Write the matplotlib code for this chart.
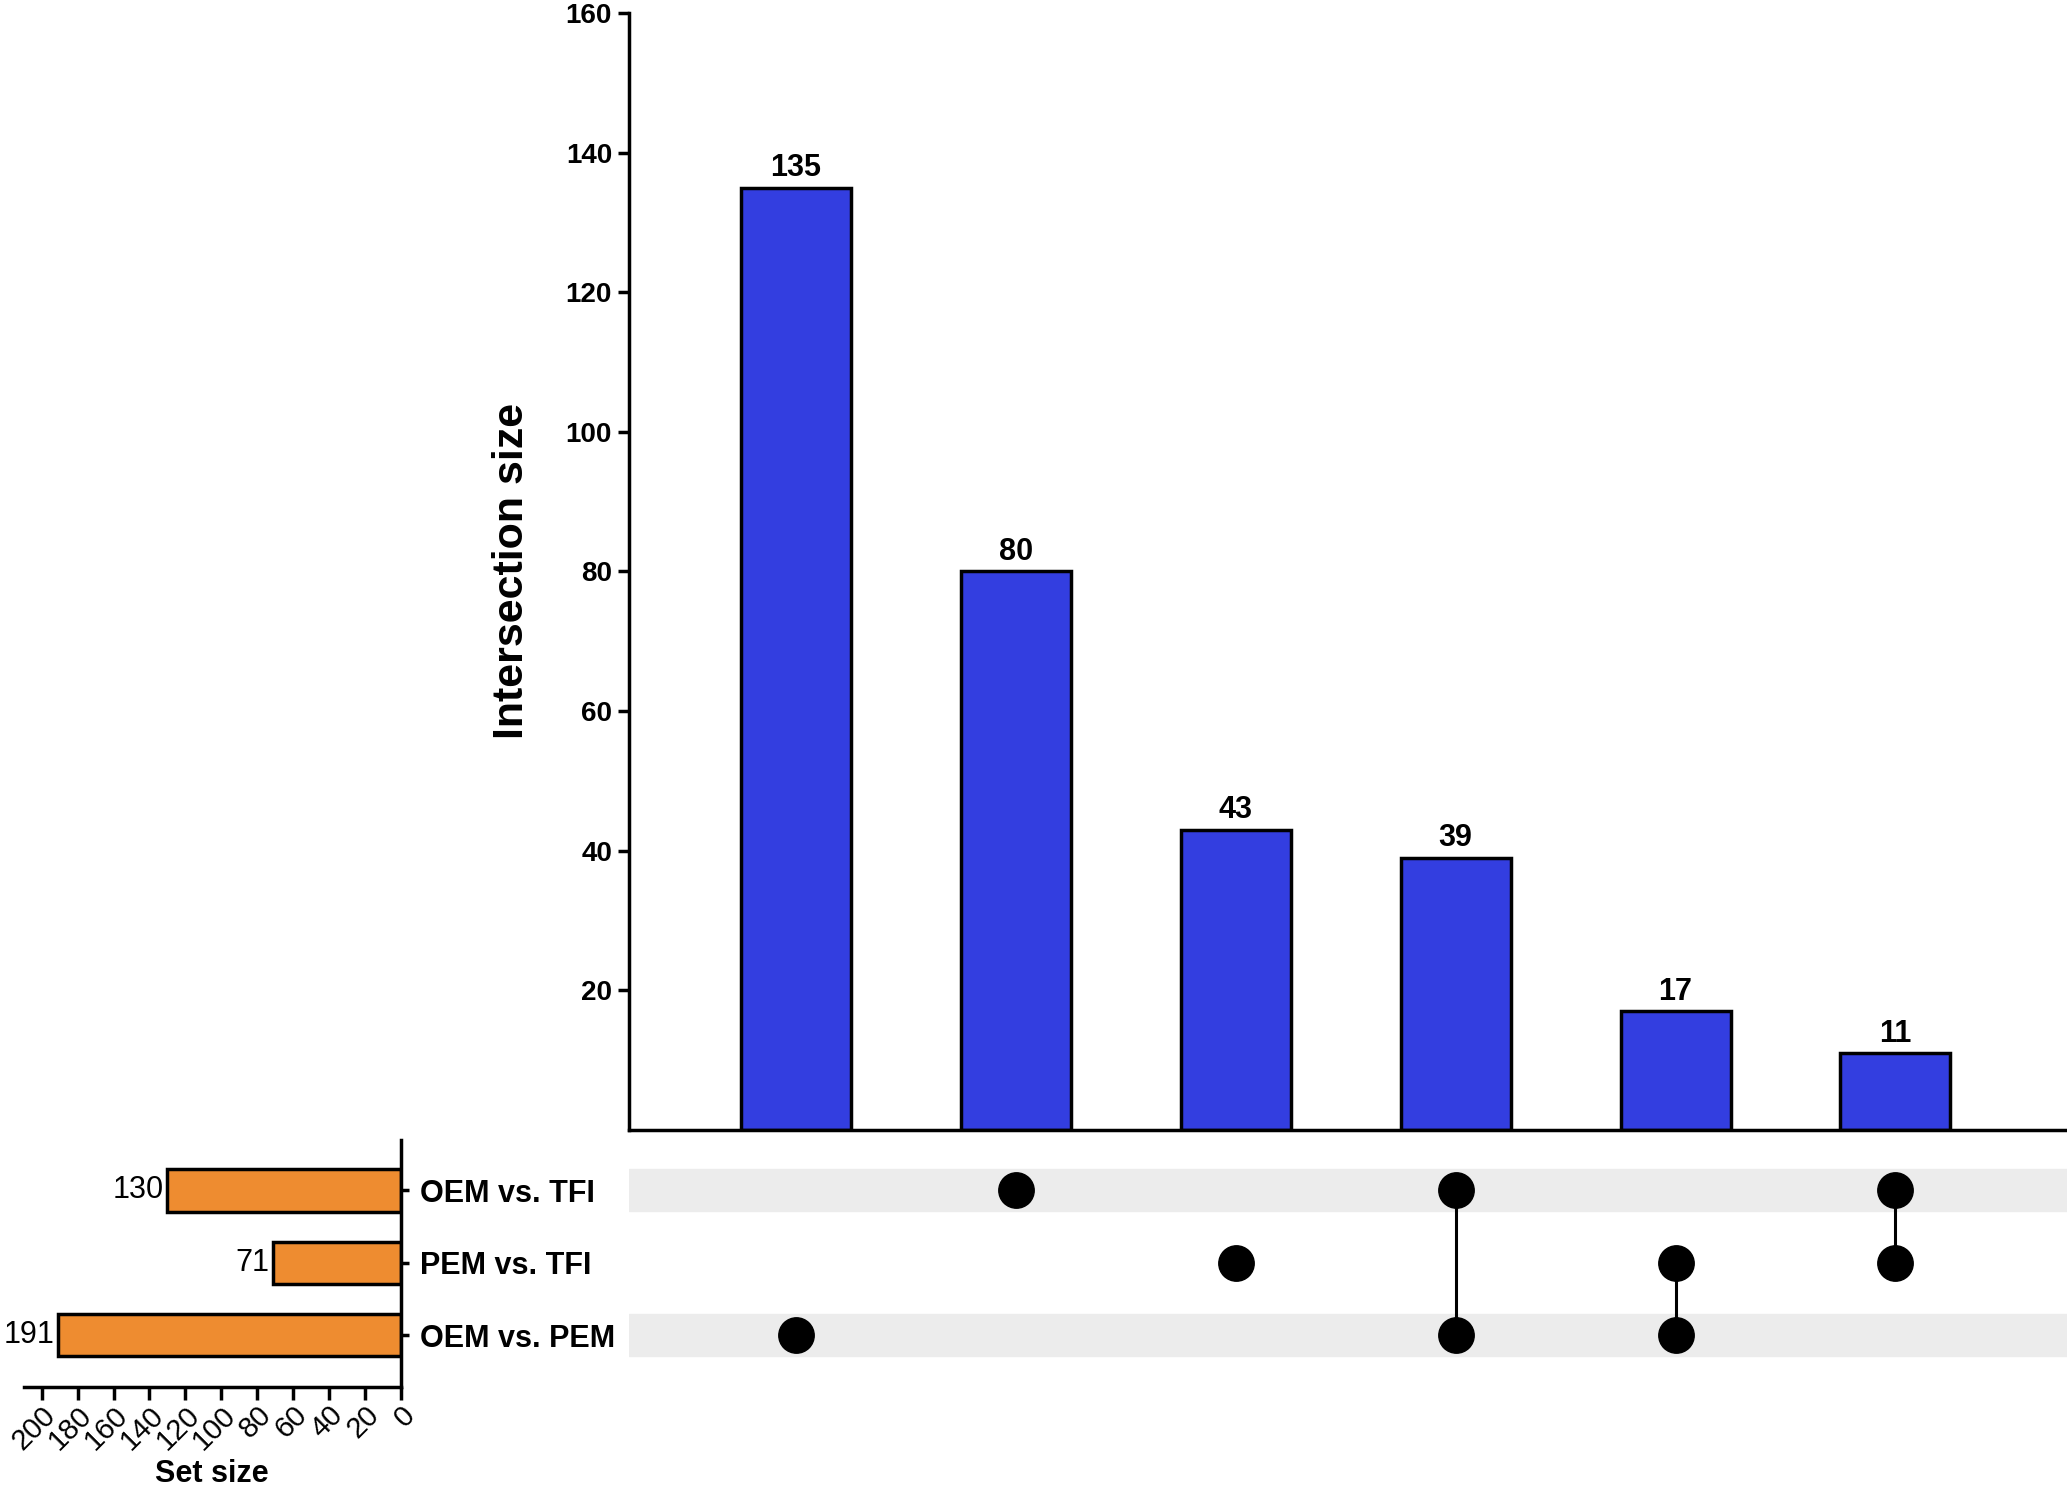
import matplotlib
matplotlib.use("Agg")
import matplotlib.pyplot as plt

plt.rcParams['font.family'] = ['Liberation Sans', 'DejaVu Sans']

# data
inter_sizes = [135, 80, 43, 39, 17, 11]
set_names = ["OEM vs. PEM", "PEM vs. TFI", "OEM vs. TFI"]   # row 0 at bottom
set_sizes = [191, 71, 130]
# which sets (row index) each intersection contains
members = [[0], [2], [1], [2, 0], [1, 0], [2, 1]]

blue = "#333ee0"
orange = "#ee8c30"
stripe = "#ececec"

fig = plt.figure(figsize=(20.67, 14.91), dpi=100)

xlim = (-0.76, 5.78)

# intersection bars
ax = fig.add_axes([0.3042, 0.2423, 0.6958, 0.7489])
x = list(range(len(inter_sizes)))
bars = ax.bar(x, inter_sizes, width=0.5, color=blue, edgecolor="black", linewidth=2.5)
ax.bar_label(bars, padding=3, fontsize=22, fontweight="bold")
ax.set_xlim(*xlim)
ax.set_ylim(0, 160)
ax.set_yticks(range(20, 161, 20))
ax.set_xticks([])
ax.spines[['top', 'right']].set_visible(False)
ax.spines[['left', 'bottom']].set_linewidth(2.5)
ax.tick_params(axis='y', width=2.5, length=8, labelsize=20, pad=4)
for t in ax.get_yticklabels():
    t.set_fontweight("bold")
ax.set_ylabel("Intersection size", fontsize=31, fontweight="bold", labelpad=24)

# matrix
mx = fig.add_axes([0.3042, 0.080, 0.6958, 0.1459])
mx.set_xlim(*xlim)
mx.set_ylim(-0.5, 2.5)
mx.axis("off")
for r in [0, 2]:
    mx.axhspan(r - 0.29, r + 0.29, color=stripe, zorder=0)
for i, rows in enumerate(members):
    if len(rows) > 1:
        mx.plot([i, i], [min(rows), max(rows)], color="black", linewidth=2.2, zorder=2)
    mx.scatter([i] * len(rows), rows, s=650, color="black", zorder=3)

# set sizes
sx = fig.add_axes([0.0115, 0.0698, 0.1824, 0.1653])
sx.barh(range(3), set_sizes, height=0.58, color=orange, edgecolor="black", linewidth=2.5)
sx.set_xlim(210, 0)
sx.set_ylim(-0.71, 2.69)
sx.set_xticks(range(0, 201, 20))
sx.set_yticks(range(3))
sx.set_yticklabels(set_names, fontsize=22, fontweight="bold")
sx.yaxis.tick_right()
sx.spines[['top', 'left']].set_visible(False)
sx.spines[['right', 'bottom']].set_linewidth(2.5)
sx.tick_params(axis='y', width=2.5, length=6, pad=8)
sx.tick_params(axis='x', width=2.5, length=9, labelsize=21, labelrotation=45, pad=1)
for t in sx.get_xticklabels():
    t.set_ha("right")
    t.set_rotation_mode("anchor")
for r, v in enumerate(set_sizes):
    sx.text(v + 2, r, str(v), ha="right", va="center", fontsize=22)
fig.text(0.1027, 0.0015, "Set size", ha="center", va="bottom", fontsize=22, fontweight="bold")

fig.savefig("out.png", dpi=100)
